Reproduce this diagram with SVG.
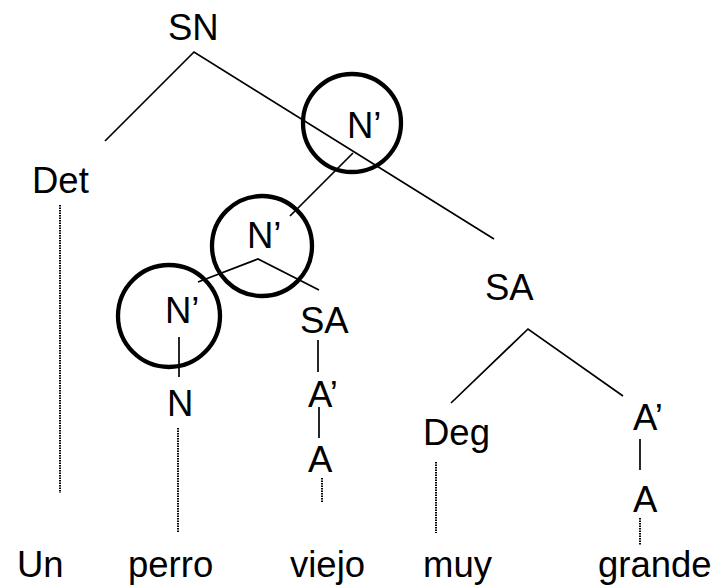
<svg xmlns="http://www.w3.org/2000/svg" width="727" height="587" viewBox="0 0 727 587">
<style>
text{font-family:"Liberation Sans",Arial,sans-serif;font-size:36.5px;fill:#000}
.e{stroke:#000;stroke-width:1.7;fill:none}
.d{stroke:#000;stroke-width:2;fill:none;stroke-dasharray:1.5 1}
.c{stroke:#000;stroke-width:4.3;fill:none}
</style>
<rect width="727" height="587" fill="#fff"/>
<g id="n-SN"><text x="168" y="40">SN</text></g>
<g id="n-Nbar1"><circle class="c" cx="352" cy="123" r="49"/><text x="347" y="138">N’</text></g>
<g id="n-Det"><text x="32" y="193">Det</text></g>
<g id="n-Nbar2"><circle class="c" cx="262" cy="246" r="50"/><text x="247" y="248">N’</text></g>
<g id="n-SA2"><text x="485" y="300">SA</text></g>
<g id="n-Nbar3"><circle class="c" cx="169" cy="316" r="51"/><text x="165" y="323">N’</text></g>
<g id="n-SA1"><text x="300" y="333">SA</text></g>
<g id="n-N"><text x="167" y="416">N</text></g>
<g id="n-Abar1"><text x="308" y="407">A’</text></g>
<g id="n-Deg"><text x="423" y="445">Deg</text></g>
<g id="n-Abar2"><text x="633" y="430">A’</text></g>
<g id="n-A1"><text x="308" y="472">A</text></g>
<g id="n-A2"><text x="633" y="512">A</text></g>
<g id="w-Un"><text x="17" y="577">Un</text></g>
<g id="w-perro"><text x="128" y="577">perro</text></g>
<g id="w-viejo"><text x="290" y="577">viejo</text></g>
<g id="w-muy"><text x="423" y="577">muy</text></g>
<g id="w-grande"><text x="598" y="577">grande</text></g>
<g id="connectors">
<path class="e" d="M105 141L194 52L494 239"/>
<path class="e" d="M353 153L290 216"/>
<path class="e" d="M198 282L258 259L319 290"/>
<path class="e" d="M179 337V377"/>
<path class="e" d="M318 340V372"/>
<path class="e" d="M319 407V438"/>
<path class="e" d="M451 403L528 329L623 396"/>
<path class="e" d="M640 439V470"/>
<path class="d" d="M60 205V493"/>
<path class="d" d="M178 428V533"/>
<path class="d" d="M322 478V502"/>
<path class="d" d="M436 462V533"/>
<path class="d" d="M640 518V545"/>
</g>
</svg>
